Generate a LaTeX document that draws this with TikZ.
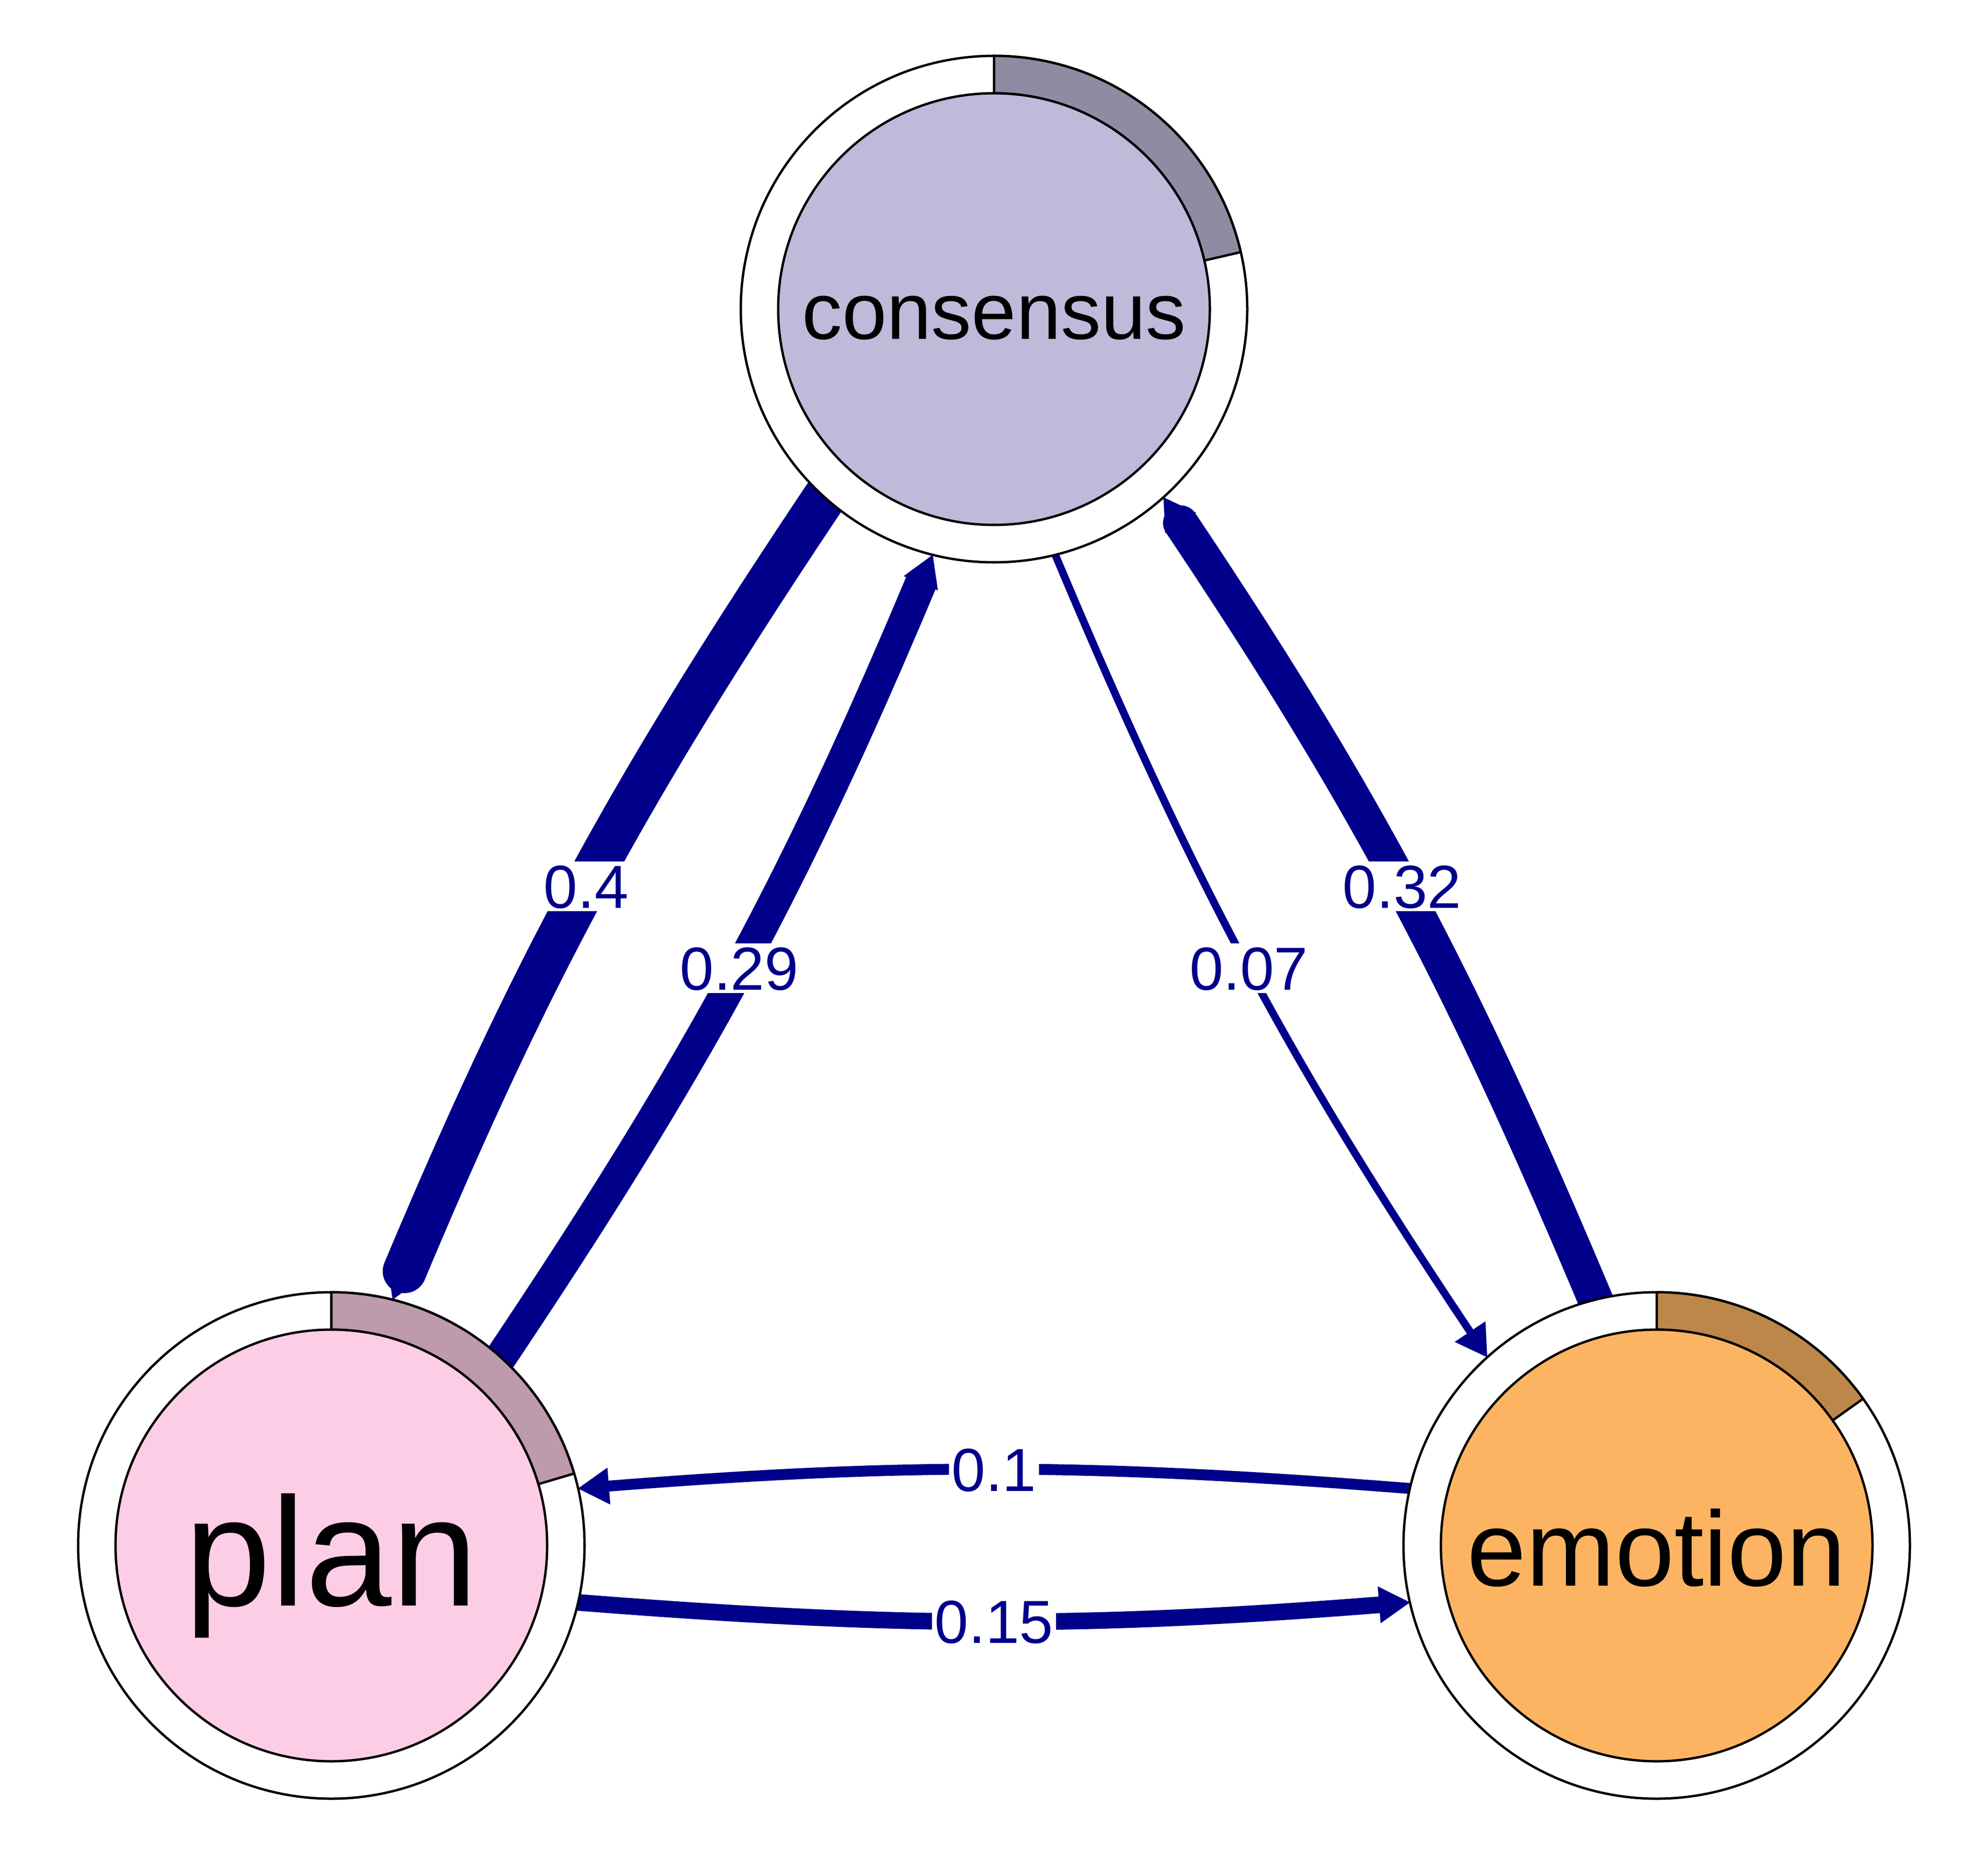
\documentclass[tikz,border=0pt]{standalone}
\usepackage{fontspec}
\setmainfont{Liberation Sans}
\usetikzlibrary{arrows.meta,backgrounds}
\definecolor{edgeblue}{HTML}{00008B}
\definecolor{consfill}{HTML}{BEBADA}
\definecolor{planfill}{HTML}{FCCDE5}
\definecolor{emofill}{HTML}{FDB462}
\begin{document}
\begin{tikzpicture}[x=0.35cm, y=0.35cm, line width=0.5pt,
  outer/.style={circle, draw, fill=white, minimum size=3.745cm, inner sep=0pt, outer sep=0pt},
  inner/.style={circle, draw, minimum size=3.192cm, inner sep=0pt, outer sep=0pt, text depth=0pt},
  piepart/.style={draw, line join=miter},
  edge/.style={draw=edgeblue, line cap=round, -{Triangle[length=6.5pt, width=7.8pt, line width=0pt]}},
  elabel/.style={fill=white, text=edgeblue, inner sep=0.6pt, text height=9.2pt, text depth=0pt, font=\fontsize{12.8}{15}\selectfont}]
\useasboundingbox (0,0) rectangle (42,-39.19);
\node[outer] (consensus) at (21,-6.53) {};
\node[outer] (plan) at (7,-32.65) {};
\node[outer] (emotion) at (35,-32.65) {};
\draw[piepart, fill=consfill!75!black] (consensus.center) ++(90:1.596cm) -- ++(90:0.2765cm) arc[start angle=90, end angle=13, radius=1.8725cm] -- ++(193:0.2765cm) arc[start angle=13, end angle=90, radius=1.596cm] -- cycle;
\draw[piepart, fill=planfill!75!black] (plan.center) ++(90:1.596cm) -- ++(90:0.2765cm) arc[start angle=90, end angle=16.5, radius=1.8725cm] -- ++(196.5:0.2765cm) arc[start angle=16.5, end angle=90, radius=1.596cm] -- cycle;
\draw[piepart, fill=emofill!75!black] (emotion.center) ++(90:1.596cm) -- ++(90:0.2765cm) arc[start angle=90, end angle=35.4, radius=1.8725cm] -- ++(215.4:0.2765cm) arc[start angle=35.4, end angle=90, radius=1.596cm] -- cycle;
\node[inner, fill=consfill, text height=12.6pt, font=\fontsize{16.9}{20}\selectfont] (consensusin) at (consensus) {consensus};
\node[inner, fill=planfill, text height=25.4pt, font=\fontsize{32.6}{38}\selectfont] (planin) at (plan) {plan};
\node[inner, fill=emofill, text height=17pt, font=\fontsize{22.4}{26}\selectfont] (emotionin) at (emotion) {emotion};
\begin{scope}[on background layer]
\draw[edge, line width=9.2pt] (consensus.228) to[bend right=5.5] node[elabel] {0.4} (plan.76);
\draw[edge, line width=6.7pt] (plan.48) to[bend right=5.5] node[elabel] {0.29} (consensus.256);
\draw[edge, line width=1.6pt] (consensus.284) to[bend right=5.5] node[elabel] {0.07} (emotion.132);
\draw[edge, line width=7.4pt] (emotion.104) to[bend right=5.5] node[elabel] {0.32} (consensus.312);
\draw[edge, line width=2.3pt] (emotion.167) to[bend right=4.5] node[elabel] {0.1} (plan.13);
\draw[edge, line width=3.5pt] (plan.347) to[bend right=4.5] node[elabel] {0.15} (emotion.193);
\end{scope}
\end{tikzpicture}
\end{document}
